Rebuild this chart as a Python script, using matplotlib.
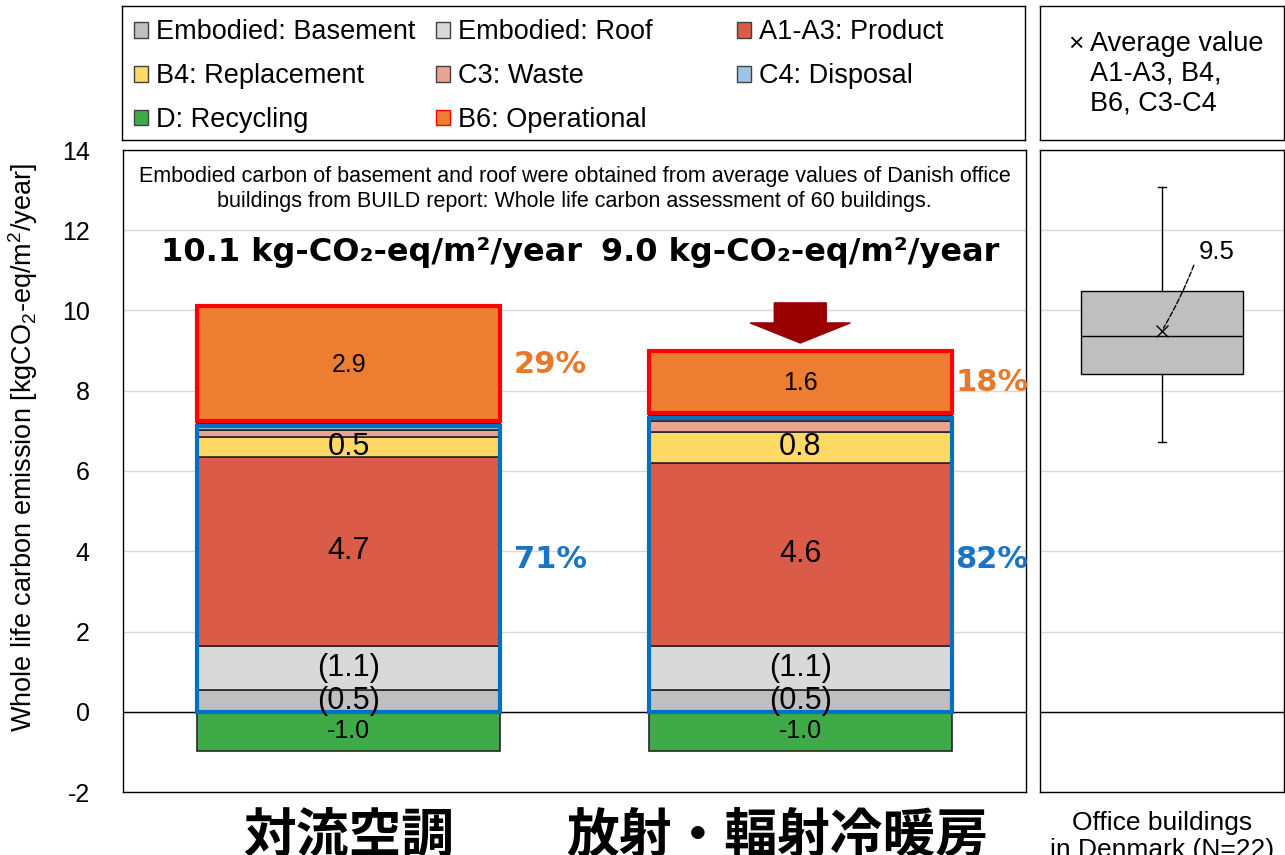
import numpy as np
import matplotlib
matplotlib.use('Agg')
from matplotlib import pyplot as plt
from matplotlib.patches import Patch, Rectangle
from matplotlib.transforms import blended_transform_factory

plt.rcParams['font.family'] = ['Liberation Sans', 'DejaVu Sans']
plt.rcParams['axes.unicode_minus'] = False
plt.rcParams['mathtext.fontset'] = 'custom'
plt.rcParams['mathtext.rm'] = 'Liberation Sans'
plt.rcParams['mathtext.default'] = 'regular'

# Stacked bar data [kgCO2-eq/m2/year]
categories = ['対流空調', '放射・輻射冷暖房']
basement = [0.53, 0.53]
roof = [1.12, 1.12]
product = [4.70, 4.56]
replacement = [0.50, 0.77]
waste = [0.17, 0.27]
disposal = [0.18, 0.15]
operational = [2.90, 1.60]
recycling = [-0.98, -0.98]

# Danish office buildings (box plot)
dk_min = 6.72
dk_q1 = 8.42
dk_med = 9.37
dk_q3 = 10.49
dk_max = 13.07
dk_mean = 9.5
dk_label = 'Office buildings\nin Denmark (N=22)'

note = ('Embodied carbon of basement and roof were obtained from average values of Danish office\n'
        'buildings from BUILD report: Whole life carbon assessment of 60 buildings.')

col_base = '#BFBFBF'
col_roof = '#D9D9D9'
col_prod = '#DA5B48'
col_repl = '#FFD966'
col_waste = '#EAA590'
col_disp = '#9DC3E6'
col_recy = '#41AA48'
col_oper = '#ED7D31'
edge = '#262626'

W, H = 1285, 855
def frame(x0, y0, x1, y1):
    return [x0 / W, 1 - y1 / H, (x1 - x0) / W, (y1 - y0) / H]

fig = plt.figure(figsize=(W / 100, H / 100), dpi=100)
ax = fig.add_axes(frame(123, 150, 1026, 792))
axr = fig.add_axes(frame(1040, 150, 1284, 792))
axl = fig.add_axes(frame(122, 6, 1025, 140))
axl2 = fig.add_axes(frame(1040, 6, 1284, 140))

x = np.arange(len(categories))
w = 0.67

layers = [
    (basement, col_base, 'Embodied: Basement', lambda v: f'({v:.1f})', 22),
    (roof, col_roof, 'Embodied: Roof', lambda v: f'({v:.1f})', 22),
    (product, col_prod, 'A1-A3: Product', lambda v: f'{v:.1f}', 22),
    (replacement, col_repl, 'B4: Replacement', lambda v: f'{v:.1f}', 22),
    (waste, col_waste, 'C3: Waste', None, 0),
    (disposal, col_disp, 'C4: Disposal', None, 0),
    (operational, col_oper, 'B6: Operational', lambda v: f'{v:.1f}', 18),
]

bottom = np.zeros(len(x))
for vals, color, name, fmt, fs in layers:
    vals = np.array(vals)
    ax.bar(x, vals, w, bottom=bottom, color=color, edgecolor=edge, linewidth=1.2, zorder=3)
    if fmt is not None:
        for xi, b, v in zip(x, bottom, vals):
            ax.text(xi, b + v / 2, fmt(v), ha='center', va='center', fontsize=fs, zorder=6)
    bottom += vals
totals = bottom.copy()

ax.bar(x, recycling, w, color=col_recy, edgecolor=edge, linewidth=1.2, zorder=3)
for xi, v in zip(x, recycling):
    ax.text(xi, v / 2, f'{v:.1f}', ha='center', va='center', fontsize=18, zorder=6)

# outline boxes: embodied (blue) and operational (red)
oper = np.array(operational)
embodied = totals - oper
for xi, e, o in zip(x, embodied, oper):
    ax.add_patch(Rectangle((xi - w / 2, 0), w, e - 0.07, fill=False,
                           edgecolor='#0070C0', linewidth=3, zorder=5))
    ax.add_patch(Rectangle((xi - w / 2, e + 0.04), w, o - 0.04, fill=False,
                           edgecolor='#FF0000', linewidth=3, zorder=5))

# shares
pct_dx = [0.03, 0.008]
for xi, e, o, t, dx in zip(x, embodied, oper, totals, pct_dx):
    ax.text(xi + w / 2 + dx, e + o / 2, f'{o / t * 100:.0f}%', color='#E8782A',
            fontsize=22, fontweight='bold', family='DejaVu Sans', ha='left', va='center')
    ax.text(xi + w / 2 + dx, 3.8, f'{e / t * 100:.0f}%', color='#1A74C4',
            fontsize=22, fontweight='bold', family='DejaVu Sans', ha='left', va='center')

# totals
tot_dx = [0.05, 0.0]
for xi, t, dx in zip(x, totals, tot_dx):
    ax.text(xi + dx, 11.45, f'{t:.1f} kg-CO\u2082-eq/m\u00b2/year', ha='center', va='center',
            fontsize=23, fontweight='bold', family='DejaVu Sans')

# reduction arrow over second bar
ax.arrow(x[1], totals[1] + 1.19, 0, -1.0, width=0.115, head_width=0.222, head_length=0.5,
         length_includes_head=True, color='#990000', zorder=4)

ax.text(0.5, 13.03, note, ha='center', va='center', fontsize=15.5, linespacing=1.25)

# category labels under the axis
trans = blended_transform_factory(ax.transData, ax.transAxes)
cat_x = [0.0, 0.95]
for cx, c in zip(cat_x, categories):
    ax.text(cx, -0.027, c, transform=trans, ha='center', va='top', fontsize=38,
            fontweight='bold', family=['Noto Sans CJK JP', 'DejaVu Sans'])

ax.set_xlim(-0.5, 1.5)
ax.set_ylim(-2, 14)
ax.set_yticks(np.arange(-2, 15, 2))
ax.set_xticks([])
ax.tick_params(axis='y', length=0, pad=24, labelsize=18)
ax.yaxis.grid(True, color='#D9D9D9', linewidth=1, zorder=0)
ax.set_axisbelow(True)
ax.axhline(0, color='black', linewidth=1, zorder=2)
ax.set_ylabel('Whole life carbon emission [kgCO$_2$-eq/m$^2$/year]', fontsize=19.5)
ax.yaxis.set_label_coords(-0.092, 0.537)

# box plot panel
stats = [dict(whislo=dk_min, q1=dk_q1, med=dk_med, q3=dk_q3, whishi=dk_max, mean=dk_mean)]
axr.bxp(stats, positions=[1], widths=0.66, capwidths=0.035, showmeans=True, showfliers=False,
        patch_artist=True,
        boxprops=dict(facecolor=col_base, edgecolor='black', linewidth=1),
        medianprops=dict(color='black', linewidth=1),
        whiskerprops=dict(color='black', linewidth=1),
        capprops=dict(color='black', linewidth=1),
        meanprops=dict(marker='x', markeredgecolor='black', markersize=8, markeredgewidth=1))
axr.annotate(f'{dk_mean:.1f}', xy=(1, dk_mean), xytext=(1.15, 11.45), fontsize=18.5,
             ha='left', va='center',
             arrowprops=dict(arrowstyle='-', linestyle='--', color='black', linewidth=1,
                             shrinkA=4, shrinkB=2, relpos=(0, 0.5),
                             connectionstyle='arc3,rad=-0.05'))
axr.set_xlim(0.5, 1.5)
axr.set_ylim(-2, 14)
axr.set_yticks(np.arange(-2, 15, 2))
axr.set_xticks([])
axr.tick_params(axis='y', length=0, labelleft=False)
axr.yaxis.grid(True, color='#D9D9D9', linewidth=1)
axr.set_axisbelow(True)
axr.axhline(0, color='black', linewidth=1)
axr.text(1, -0.03, dk_label, transform=blended_transform_factory(axr.transData, axr.transAxes),
         ha='center', va='top', fontsize=19, linespacing=1.15)

# legend panel (row order as in the reference)
handles = {}
for vals, color, name, fmt, fs in layers:
    handles[name] = Patch(facecolor=color, edgecolor='#404040', linewidth=1)
handles['D: Recycling'] = Patch(facecolor=col_recy, edgecolor='#404040', linewidth=1)
handles['B6: Operational'] = Patch(facecolor=col_oper, edgecolor='#FF0000', linewidth=1)
columns = [
    ['Embodied: Basement', 'B4: Replacement', 'D: Recycling'],
    ['Embodied: Roof', 'C3: Waste', 'B6: Operational'],
    ['A1-A3: Product', 'C4: Disposal'],
]
col_left = [(134 - 122) / 903, (436 - 122) / 903, (737 - 122) / 903]
legs = []
for names, cl in zip(columns, col_left):
    leg = axl.legend([handles[n] for n in names], names, loc='upper left',
                     bbox_to_anchor=(cl, 0.90), frameon=False, fontsize=19.5,
                     borderaxespad=0, borderpad=0, handlelength=0.52, handleheight=0.52,
                     handletextpad=0.28, labelspacing=0.66)
    legs.append(leg)
for leg in legs[:-1]:
    axl.add_artist(leg)
axl.set_xticks([])
axl.set_yticks([])

axl2.set_xticks([])
axl2.set_yticks([])
axl2.text(0.148, 0.72, '\u00d7', ha='center', va='center', fontsize=19)
axl2.text(0.205, 0.72, 'Average value', ha='left', va='center', fontsize=19.5)
axl2.text(0.205, 0.495, 'A1-A3, B4,', ha='left', va='center', fontsize=19.5)
axl2.text(0.205, 0.27, 'B6, C3-C4', ha='left', va='center', fontsize=19.5)

for a in (ax, axr, axl, axl2):
    for s in a.spines.values():
        s.set_color('black')
        s.set_linewidth(1)

fig.savefig('out.png', dpi=100)
